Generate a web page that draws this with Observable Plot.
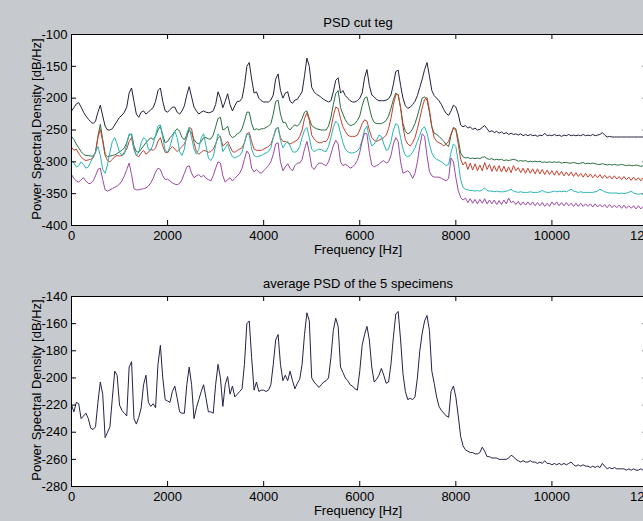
<!DOCTYPE html>
<html><head><meta charset="utf-8">
<script src="https://cdn.jsdelivr.net/npm/d3@7"></script>
<script src="https://cdn.jsdelivr.net/npm/@observablehq/plot@0.6"></script>
<style>
html,body{margin:0;padding:0;overflow:hidden;background:#c6c9cd;}
#fig{position:relative;width:643px;height:521px;overflow:hidden;background:#c6c9cd;font-family:"Liberation Sans",Arial,sans-serif;color:#000;}
.p{position:absolute;left:0;}
.lbl{position:absolute;font-size:13px;line-height:13px;white-space:nowrap;transform:translate(-50%,-50%);}
.ylbl{transform:translate(-50%,-50%) rotate(-90deg);}
</style></head><body>
<div id="fig">
  <div id="top" class="p" style="top:0px"></div>
  <div id="bot" class="p" style="top:262px"></div>
  <div class="lbl" style="left:358px;top:22px">PSD cut teg</div>
  <div class="lbl" style="left:358px;top:249px">Frequency [Hz]</div>
  <div class="lbl ylbl" style="left:36px;top:129px">Power Spectral Density [dB/Hz]</div>
  <div class="lbl" style="left:358px;top:283px">average PSD of the 5 specimens</div>
  <div class="lbl" style="left:358px;top:510px">Frequency [Hz]</div>
  <div class="lbl ylbl" style="left:36px;top:390px">Power Spectral Density [dB/Hz]</div>
</div>
<script>
// Frequency grid [Hz]
const freq = [
0,50,100,150,200,250,300,350,400,450,
500,550,600,650,700,750,800,850,900,950,
1000,1050,1100,1150,1200,1250,1300,1350,1400,1450,
1500,1550,1600,1650,1700,1750,1800,1850,1900,1950,
2000,2050,2100,2150,2200,2250,2300,2350,2400,2450,
2500,2550,2600,2650,2700,2750,2800,2850,2900,2950,
3000,3050,3100,3150,3200,3250,3300,3350,3400,3450,
3500,3550,3600,3650,3700,3750,3800,3850,3900,3950,
4000,4050,4100,4150,4200,4250,4300,4350,4400,4450,
4500,4550,4600,4650,4700,4750,4800,4850,4900,4950,
5000,5050,5100,5150,5200,5250,5300,5350,5400,5450,
5500,5550,5600,5650,5700,5750,5800,5850,5900,5950,
6000,6050,6100,6150,6200,6250,6300,6350,6400,6450,
6500,6550,6600,6650,6700,6750,6800,6850,6900,6950,
7000,7050,7100,7150,7200,7250,7300,7350,7400,7450,
7500,7550,7600,7650,7700,7750,7800,7850,7900,7950,
8000,8050,8100,8150,8200,8250,8300,8350,8400,8450,
8500,8550,8600,8650,8700,8750,8800,8850,8900,8950,
9000,9050,9100,9150,9200,9250,9300,9350,9400,9450,
9500,9550,9600,9650,9700,9750,9800,9850,9900,9950,
10000,10050,10100,10150,10200,10250,10300,10350,10400,10450,
10500,10550,10600,10650,10700,10750,10800,10850,10900,10950,
11000,11050,11100,11150,11200,11250,11300,11350,11400,11450,
11500,11550,11600,11650,11700,11750,11800,11850,11900,11950,
12000];

// Specimen PSDs [dB/Hz]
const spec1 = [
-220,-215,-209,-207,-214,-222,-228,-233,-237,-240,
-236,-222,-211,-228,-244,-250,-250,-248,-242,-236,
-230,-227,-222,-214,-192,-184,-205,-225,-230,-222,
-220,-225,-222,-218,-215,-205,-188,-184,-205,-220,
-222,-218,-214,-214,-222,-225,-220,-212,-195,-182,
-198,-214,-220,-225,-222,-220,-222,-223,-222,-220,
-210,-190,-200,-215,-205,-193,-210,-220,-212,-205,
-205,-200,-180,-150,-144,-170,-192,-190,-200,-204,
-206,-206,-206,-203,-195,-170,-162,-188,-200,-192,
-190,-205,-208,-203,-202,-196,-190,-165,-137,-150,
-183,-190,-194,-196,-199,-202,-204,-206,-204,-190,
-172,-168,-192,-188,-196,-200,-204,-206,-206,-204,
-200,-192,-168,-155,-180,-195,-198,-202,-204,-204,
-204,-203,-201,-195,-178,-158,-156,-180,-200,-212,
-216,-214,-210,-205,-196,-183,-170,-155,-144,-165,
-188,-196,-200,-204,-210,-218,-224,-227,-220,-211,
-214,-225,-242,-245,-243,-247,-245,-249,-247,-250,
-249,-246,-243,-248,-253,-251,-254,-252,-255,-253,
-256,-254,-257,-255,-257,-256,-258,-256,-259,-257,
-259,-257,-259,-258,-260,-258,-259,-255,-259,-258,
-259,-257,-259,-258,-260,-258,-259,-257,-259,-258,
-259,-258,-259,-257,-259,-258,-259,-257,-259,-258,
-257,-254,-258,-261,-260,-261,-261,-261,-261,-261,
-261,-261,-261,-261,-261,-261,-261,-261,-261,-261,
-261];

const spec2 = [
-260,-265,-272,-278,-284,-288,-290,-290,-291,-291,
-285,-260,-241,-265,-288,-292,-291,-290,-289,-287,
-284,-282,-278,-270,-258,-256,-275,-284,-285,-280,
-275,-270,-266,-262,-265,-260,-250,-244,-258,-270,
-268,-262,-258,-252,-248,-252,-262,-265,-258,-250,
-255,-265,-270,-272,-268,-262,-262,-264,-264,-258,
-245,-232,-230,-250,-248,-244,-258,-262,-260,-256,
-254,-248,-236,-222,-222,-240,-250,-248,-250,-248,
-248,-246,-244,-240,-225,-205,-203,-225,-238,-238,
-246,-250,-245,-242,-244,-240,-232,-222,-220,-232,
-243,-246,-248,-249,-250,-250,-250,-244,-230,-210,
-193,-188,-215,-225,-234,-240,-243,-242,-240,-235,
-228,-212,-200,-198,-215,-230,-238,-240,-240,-240,
-238,-235,-228,-216,-202,-192,-195,-215,-240,-252,
-256,-254,-248,-240,-228,-214,-200,-198,-203,-222,
-245,-255,-257,-260,-264,-268,-273,-276,-258,-246,
-248,-265,-286,-292,-294,-293,-295,-294,-295,-294,
-295,-293,-292,-295,-296,-295,-297,-296,-297,-296,
-298,-297,-298,-297,-296,-297,-299,-298,-299,-298,
-300,-299,-300,-299,-300,-299,-301,-300,-301,-300,
-301,-300,-301,-300,-302,-301,-301,-302,-302,-301,
-302,-303,-302,-301,-303,-302,-303,-302,-303,-304,
-304,-303,-304,-305,-304,-305,-304,-305,-305,-304,
-305,-306,-305,-306,-306,-305,-306,-307,-306,-307,
-307];

const spec3 = [
-277,-282,-280,-287,-292,-296,-298,-297,-296,-294,
-285,-262,-249,-268,-290,-298,-300,-296,-292,-290,
-291,-290,-285,-280,-268,-262,-280,-290,-292,-286,
-282,-288,-285,-280,-282,-278,-268,-262,-275,-285,
-286,-280,-276,-280,-284,-280,-276,-272,-262,-246,
-248,-270,-284,-288,-285,-282,-283,-285,-284,-280,
-272,-262,-260,-275,-272,-268,-276,-284,-285,-282,
-280,-278,-270,-256,-254,-268,-280,-282,-282,-282,
-280,-278,-276,-272,-262,-250,-246,-262,-268,-268,
-270,-272,-270,-268,-266,-260,-250,-232,-223,-235,
-258,-264,-268,-270,-270,-268,-268,-262,-248,-228,
-214,-216,-232,-245,-252,-258,-260,-260,-260,-258,
-250,-240,-234,-236,-250,-262,-266,-268,-266,-264,
-262,-258,-248,-232,-210,-195,-194,-215,-245,-265,
-272,-275,-270,-262,-248,-232,-215,-202,-199,-218,
-245,-262,-268,-270,-272,-275,-272,-268,-256,-247,
-250,-272,-296,-305,-300,-312,-302,-313,-303,-314,
-305,-314,-301,-312,-304,-315,-306,-315,-306,-316,
-307,-316,-308,-317,-306,-314,-309,-317,-310,-318,
-310,-318,-311,-319,-311,-319,-312,-320,-313,-320,
-314,-321,-314,-321,-315,-322,-316,-322,-316,-323,
-317,-323,-318,-324,-318,-324,-319,-325,-320,-325,
-320,-326,-321,-326,-322,-327,-322,-327,-323,-328,
-323,-328,-324,-329,-324,-329,-325,-330,-325,-330,
-326];

const spec4 = [
-298,-302,-308,-306,-300,-304,-310,-308,-300,-292,
-284,-276,-290,-312,-318,-305,-285,-268,-262,-272,
-285,-290,-288,-272,-256,-258,-280,-290,-285,-270,
-262,-265,-280,-282,-272,-258,-244,-242,-262,-282,
-285,-276,-262,-252,-262,-284,-290,-280,-255,-246,
-262,-280,-288,-280,-262,-256,-275,-294,-298,-292,
-274,-256,-262,-284,-278,-272,-284,-292,-294,-292,
-290,-285,-270,-256,-258,-280,-290,-292,-291,-290,
-288,-286,-284,-278,-262,-248,-246,-266,-278,-272,
-268,-275,-284,-285,-283,-276,-262,-250,-246,-262,
-280,-284,-282,-280,-281,-283,-284,-276,-262,-246,
-236,-240,-255,-270,-280,-284,-286,-286,-285,-283,
-278,-265,-250,-244,-262,-275,-272,-266,-258,-260,
-272,-282,-280,-268,-250,-240,-243,-262,-280,-290,
-292,-290,-285,-278,-268,-258,-248,-245,-255,-272,
-286,-293,-296,-298,-300,-303,-306,-304,-285,-272,
-276,-300,-328,-340,-343,-344,-345,-345,-346,-345,
-346,-344,-341,-345,-346,-346,-347,-346,-347,-347,
-347,-346,-345,-343,-346,-347,-348,-347,-348,-348,
-348,-347,-348,-348,-348,-347,-345,-347,-348,-348,
-347,-346,-347,-346,-347,-346,-347,-345,-343,-346,
-347,-348,-347,-348,-348,-348,-348,-348,-347,-346,
-343,-345,-347,-348,-349,-349,-349,-349,-350,-349,
-350,-349,-348,-346,-349,-350,-351,-350,-351,-351,
-351];

const spec5 = [
-320,-326,-330,-332,-328,-325,-330,-334,-334,-330,
-322,-312,-310,-328,-344,-346,-344,-342,-340,-338,
-335,-330,-322,-312,-302,-320,-342,-344,-344,-343,
-342,-341,-338,-333,-326,-316,-310,-312,-322,-328,
-327,-330,-333,-335,-336,-334,-328,-318,-308,-306,
-318,-325,-322,-320,-324,-321,-326,-328,-330,-322,
-310,-300,-302,-322,-332,-328,-325,-330,-326,-322,
-318,-310,-296,-283,-288,-310,-316,-312,-316,-318,
-314,-310,-306,-300,-288,-272,-270,-300,-314,-308,
-303,-310,-314,-306,-302,-302,-296,-280,-268,-285,
-308,-312,-306,-302,-302,-304,-306,-300,-288,-275,
-266,-272,-300,-306,-304,-306,-310,-308,-304,-298,
-285,-268,-255,-256,-285,-305,-308,-306,-304,-300,
-298,-302,-300,-290,-272,-262,-268,-300,-318,-316,
-314,-318,-326,-318,-300,-275,-256,-260,-290,-315,
-322,-324,-324,-324,-326,-328,-330,-326,-294,-300,
-325,-345,-356,-360,-357,-364,-358,-365,-359,-366,
-359,-365,-358,-366,-360,-366,-360,-367,-361,-367,
-360,-366,-357,-364,-362,-367,-362,-368,-363,-368,
-363,-368,-363,-369,-364,-369,-364,-370,-365,-370,
-363,-368,-363,-369,-364,-369,-364,-369,-365,-370,
-365,-370,-365,-370,-366,-370,-366,-371,-366,-371,
-367,-371,-367,-372,-367,-372,-368,-372,-368,-373,
-368,-373,-369,-373,-369,-374,-369,-374,-370,-374,
-372];

// Average PSD of the 5 specimens [dB/Hz]
const avgPSD = [
-220,-225,-218,-219,-230,-228,-226,-230,-237,-238,
-236,-218,-203,-212,-244,-240,-236,-215,-195,-198,
-220,-224,-226,-228,-192,-188,-230,-234,-229,-222,
-205,-198,-218,-221,-219,-222,-190,-176,-200,-216,
-217,-218,-210,-206,-215,-225,-226,-226,-205,-192,
-205,-230,-222,-216,-210,-205,-215,-225,-225,-226,
-205,-190,-200,-221,-205,-199,-212,-206,-214,-212,
-210,-208,-190,-160,-158,-185,-209,-203,-210,-209,
-209,-210,-209,-205,-190,-172,-168,-190,-202,-198,
-202,-195,-202,-208,-204,-201,-190,-168,-152,-158,
-200,-203,-205,-207,-205,-203,-202,-200,-185,-165,
-156,-162,-192,-196,-200,-202,-205,-206,-208,-209,
-195,-176,-168,-162,-172,-192,-203,-201,-198,-193,
-198,-204,-203,-190,-170,-153,-151,-172,-197,-210,
-216,-215,-216,-214,-200,-180,-167,-158,-154,-165,
-195,-204,-214,-221,-224,-226,-228,-229,-210,-206,
-214,-228,-243,-250,-253,-254,-255,-255,-256,-256,
-255,-251,-254,-258,-258,-259,-259,-259,-260,-260,
-260,-260,-259,-257,-258,-260,-261,-262,-261,-262,
-262,-261,-262,-262,-263,-262,-263,-261,-263,-263,
-264,-263,-264,-263,-264,-263,-264,-263,-262,-264,
-265,-264,-265,-264,-265,-265,-266,-265,-266,-265,
-266,-263,-265,-267,-266,-267,-266,-267,-267,-267,
-267,-268,-267,-268,-267,-268,-268,-267,-268,-268,
-268];

const xTicks = [0, 2000, 4000, 6000, 8000, 10000, 12000];
const yTicksTop = [-100, -150, -200, -250, -300, -350, -400];
const yTicksBot = [-140, -160, -180, -200, -220, -240, -260, -280];

const specColors = ["#22223e", "#2a6e40", "#c8402e", "#2ab4b4", "#9c48a2"];
const specs = [spec1, spec2, spec3, spec4, spec5];

const W = 660, ML = 71, MR = 12.5;
const PW = W - ML - MR;
const fmt = d => String(d);
const svgStyle = {background: "transparent", maxWidth: "none", overflow: "hidden",
  fontFamily: "'Liberation Sans', Arial, sans-serif", fontSize: "13px", color: "black"};

function panel(height, yDomain, yTicks, lines) {
  const MT = 34, MB = 35;
  const PH = height - MT - MB;
  return Plot.plot({
    width: W, height,
    marginLeft: ML, marginRight: MR, marginTop: MT, marginBottom: MB,
    style: svgStyle,
    x: {domain: [0, 12000]},
    y: {domain: yDomain},
    marks: [
      Plot.frame({fill: "white", stroke: null}),
      ...lines.map(([vals, color]) => Plot.line(freq, {x: freq, y: vals, stroke: color, strokeWidth: 1})),
      Plot.tickX(xTicks, {x: d => d, insetBottom: PH - 5, stroke: "black"}),
      Plot.tickX(xTicks, {x: d => d, insetTop: PH - 5, stroke: "black"}),
      Plot.tickY(yTicks, {y: d => d, insetRight: PW - 5, stroke: "black"}),
      Plot.tickY(yTicks, {y: d => d, insetLeft: PW - 5, stroke: "black"}),
      Plot.axisX({ticks: xTicks, tickSize: 0, tickPadding: 5, tickFormat: fmt, label: null}),
      Plot.axisY({ticks: yTicks, tickSize: 0, tickPadding: 4, tickFormat: fmt, label: null}),
      Plot.frame({stroke: "black", strokeWidth: 1})
    ]
  });
}

document.getElementById("top").append(
  panel(260, [-400, -100], yTicksTop, specs.map((s, i) => [s, specColors[i]]))
);
document.getElementById("bot").append(
  panel(259, [-280, -140], yTicksBot, [[avgPSD, "#22224a"]])
);
</script>
</body></html>
